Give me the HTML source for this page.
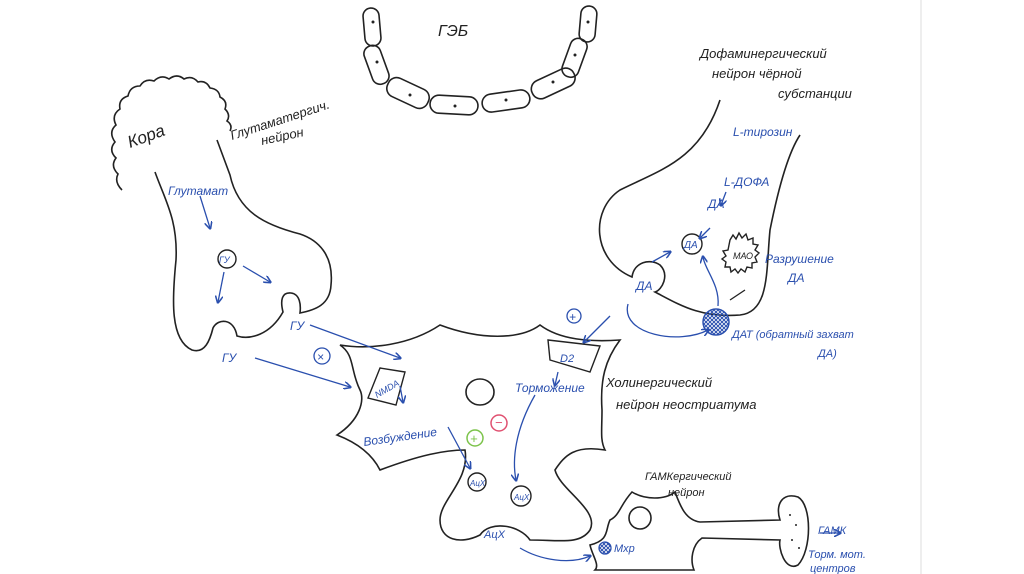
<!DOCTYPE html>
<html><head><meta charset="utf-8"><style>
html,body{margin:0;padding:0;background:#fff;width:1024px;height:574px;overflow:hidden}
svg{display:block}
text{font-family:"Liberation Sans",sans-serif;font-style:italic}
.k{fill:#222}.b{fill:#2a4fae}
</style></head><body>
<svg width="1024" height="574" viewBox="0 0 1024 574" xmlns="http://www.w3.org/2000/svg">
<defs><marker id="a" viewBox="0 0 10 10" refX="8" refY="5" markerWidth="6" markerHeight="6" orient="auto"><path d="M0,0 L10,5 L0,10" fill="none" stroke="#2a4fae" stroke-width="2"/></marker>
<pattern id="h" width="4" height="4" patternUnits="userSpaceOnUse"><path d="M0,0 L4,4 M4,0 L0,4" stroke="#2a4fae" stroke-width="1"/></pattern></defs>
<line x1="921" y1="0" x2="921" y2="574" stroke="#ddd" stroke-width="1"/>
<g fill="none" stroke="#222" stroke-width="1.6">
<path d="M122,190 q-8,-8 -4,-16 q-8,-8 -2,-16 q-8,-8 -1,-16 q-7,-10 1,-17 q-5,-10 4,-16 q-2,-10 8,-13 q2,-10 12,-10 q5,-8 14,-5 q7,-7 15,-2 q8,-6 15,0 q8,-4 14,3 q8,-2 12,6 q9,1 10,9 q8,4 5,12 q6,6 2,12 q6,4 3,10"/>
<path d="M155,172 C165,200 178,220 176,260 C172,300 170,340 192,350 C205,354 210,340 213,328 C218,318 234,318 237,336 C250,340 270,335 283,312 C280,300 282,292 291,293 C300,294 301,305 300,313 C315,310 330,305 331,285 C334,255 318,240 300,234 C265,225 238,212 230,175 L217,140"/>
<rect x="364" y="8" width="16" height="38" rx="8" transform="rotate(-5 372 27)"/>
<rect x="368" y="45" width="17" height="40" rx="8" transform="rotate(-20 376 65)"/>
<rect x="386" y="83" width="44" height="20" rx="9" transform="rotate(25 408 93)"/>
<rect x="430" y="96" width="48" height="18" rx="9" transform="rotate(3 454 105)"/>
<rect x="482" y="92" width="48" height="18" rx="9" transform="rotate(-8 506 101)"/>
<rect x="530" y="74" width="46" height="19" rx="9" transform="rotate(-25 553 83)"/>
<rect x="566" y="38" width="17" height="40" rx="8" transform="rotate(20 575 58)"/>
<rect x="580" y="6" width="16" height="36" rx="8" transform="rotate(5 588 24)"/>
<path d="M720,100 C700,160 660,170 620,190 C590,210 592,260 632,277 C634,262 650,258 660,265 C670,275 662,290 655,292 C680,305 700,318 740,315 C770,312 766,270 770,230 C780,180 790,150 800,135"/>
<path d="M440,325 C480,340 520,340 540,325 C560,340 590,342 620,340 C605,360 600,380 602,410 C602,430 600,440 605,450 C575,445 565,455 555,470 C560,490 600,510 590,530 C580,545 560,540 530,540 C520,525 490,520 480,535 C460,545 440,540 440,520 C440,500 470,480 465,450 C445,450 420,455 380,470 C370,450 350,440 337,435 C360,420 365,400 360,390 C350,370 355,355 340,345 C370,350 410,345 440,325 Z"/>
<ellipse cx="480" cy="392" rx="14" ry="13"/>
<path d="M632,492 C645,500 665,500 675,492 C680,505 685,520 700,522 L780,520 C775,505 782,492 798,497 C812,505 812,550 798,565 C785,572 778,548 780,540 L702,538 C692,545 690,560 694,570 L595,570 C600,565 592,555 590,545 C610,540 605,530 610,520 C620,515 620,505 632,492 Z"/>
<circle cx="640" cy="518" r="11"/>
</g>
<g fill="none" stroke="#222" stroke-width="1.4">
<circle cx="227" cy="259" r="9"/>
<circle cx="692" cy="244" r="10"/>
<circle cx="477" cy="482" r="9"/>
<circle cx="521" cy="496" r="10"/>
<path d="M380,368 L405,372 L396,405 L368,398 Z"/>
<path d="M548,340 L600,346 L590,372 L550,360 Z"/>
<path d="M730,240 l3,-5 3,4 3,-6 3,5 4,-4 2,6 5,-2 0,6 5,1 -3,5 4,3 -4,4 2,5 -5,1 0,5 -5,-1 -2,5 -4,-3 -3,4 -3,-4 -4,3 -1,-5 -5,0 1,-5 -4,-3 4,-3 -3,-5 5,-1 Z"/>
</g>
<circle cx="716" cy="322" r="13" fill="url(#h)" stroke="#2a4fae" stroke-width="1.5"/>
<circle cx="605" cy="548" r="6" fill="url(#h)" stroke="#2a4fae" stroke-width="1.3"/>
<g fill="#222"><circle cx="373" cy="22" r="1.5"/><circle cx="377" cy="62" r="1.5"/><circle cx="410" cy="95" r="1.5"/><circle cx="455" cy="106" r="1.5"/><circle cx="506" cy="100" r="1.5"/><circle cx="553" cy="82" r="1.5"/><circle cx="575" cy="55" r="1.5"/><circle cx="588" cy="22" r="1.5"/></g>
<circle cx="475" cy="438" r="8" fill="none" stroke="#7cc34a" stroke-width="1.5"/><text x="470" y="443" font-size="13" fill="#7cc34a">+</text>
<circle cx="499" cy="423" r="8" fill="none" stroke="#e05070" stroke-width="1.5"/><text x="495" y="427" font-size="13" fill="#e05070">−</text>
<circle cx="322" cy="356" r="8" fill="none" stroke="#2a4fae" stroke-width="1.3"/><text x="317" y="361" font-size="12" class="b">×</text>
<circle cx="574" cy="316" r="7" fill="none" stroke="#2a4fae" stroke-width="1.3"/><text x="569" y="321" font-size="12" class="b">+</text>
<g fill="none" stroke="#2a4fae" stroke-width="1.3" marker-end="url(#a)">
<path d="M200,196 L210,228"/><path d="M224,272 L218,302"/><path d="M243,266 L270,282"/>
<path d="M310,325 L400,358"/><path d="M255,358 L350,387"/>
<path d="M400,386 L403,402"/><path d="M448,427 L470,468"/>
<path d="M558,372 L555,385"/><path d="M535,395 C515,430 512,460 516,480"/>
<path d="M726,192 L721,205"/><path d="M710,228 L700,238"/>
<path d="M652,262 L670,252"/><path d="M718,306 C720,285 705,270 703,257"/>
<path d="M628,304 C620,335 680,345 708,330"/><path d="M610,316 L584,342"/>
<path d="M520,548 C540,560 570,565 590,556"/>
<path d="M820,533 L840,533"/>
</g>
<path d="M745,290 L730,300" stroke="#222" stroke-width="1.3"/>
<text x="438" y="36" font-size="16" class="k">ГЭБ</text>
<text x="130" y="148" font-size="17" class="k" transform="rotate(-20 130 148)">Кора</text>
<text x="232" y="140" font-size="13" class="k" transform="rotate(-18 232 140)">Глутаматергич.</text>
<text x="262" y="145" font-size="13" class="k" transform="rotate(-12 262 145)">нейрон</text>
<text x="700" y="58" font-size="13" class="k">Дофаминергический</text>
<text x="712" y="78" font-size="13" class="k">нейрон чёрной</text>
<text x="778" y="98" font-size="13" class="k">субстанции</text>
<text x="606" y="387" font-size="13" class="k">Холинергический</text>
<text x="616" y="409" font-size="13" class="k">нейрон неостриатума</text>
<text x="645" y="480" font-size="11" class="k">ГАМКергический</text>
<text x="668" y="496" font-size="11" class="k">нейрон</text>
<g class="b" font-size="12">
<text x="168" y="195">Глутамат</text>
<text x="219" y="263" font-size="9">ГУ</text>
<text x="222" y="362">ГУ</text><text x="290" y="330">ГУ</text>
<text x="733" y="136">L-тирозин</text>
<text x="724" y="186">L-ДОФА</text>
<text x="708" y="208">ДА</text>
<text x="684" y="248" font-size="10">ДА</text>
<text x="636" y="290">ДА</text>
<text x="733" y="259" font-size="9" fill="#222">МАО</text>
<text x="765" y="263">Разрушение</text>
<text x="788" y="282">ДА</text>
<text x="732" y="338" font-size="11">ДАТ (обратный захват</text>
<text x="818" y="357" font-size="11">ДА)</text>
<text x="374" y="393" font-size="9" transform="rotate(-30 385 390)">NMDA</text>
<text x="560" y="362" font-size="11">D2</text>
<text x="515" y="392">Торможение</text>
<text x="364" y="446" transform="rotate(-8 364 446)">Возбуждение</text>
<text x="470" y="486" font-size="8">АцХ</text><text x="514" y="500" font-size="8">АцХ</text>
<text x="484" y="538" font-size="11">АцХ</text>
<text x="614" y="552" font-size="11">Мхр</text>
<text x="818" y="534" font-size="11">ГАМК</text>
<text x="808" y="558" font-size="11">Торм. мот.</text>
<text x="810" y="572" font-size="11">центров</text>
</g>
<g fill="#222"><circle cx="790" cy="515" r="1"/><circle cx="796" cy="525" r="1"/><circle cx="792" cy="540" r="1"/><circle cx="799" cy="548" r="1"/></g>
</svg>
</body></html>
